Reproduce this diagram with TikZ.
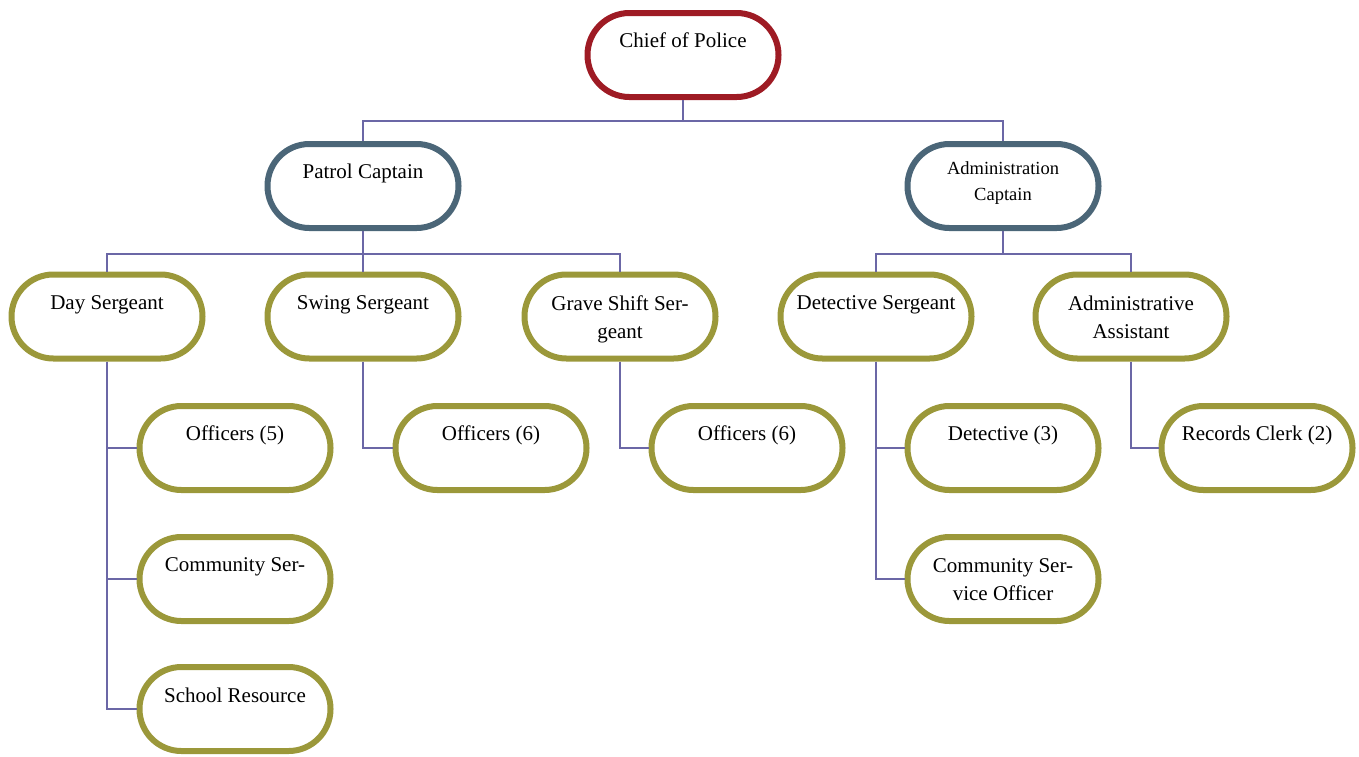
\documentclass[tikz,border=0pt]{standalone}
\usepackage{fontspec}
\setmainfont{Liberation Serif}
\definecolor{chiefred}{HTML}{9E1B24}
\definecolor{captslate}{HTML}{4B6678}
\definecolor{staffolive}{HTML}{9B983A}
\definecolor{linkpurple}{HTML}{6B67A6}
\begin{document}
\begin{tikzpicture}[x=1pt,y=1pt,
  unit/.style={draw, fill=white, line width=6pt, rounded corners=41.9pt,
    minimum width=191pt, minimum height=84pt, inner sep=0pt},
  topunit/.style={unit, draw=chiefred},
  captunit/.style={unit, draw=captslate},
  staffunit/.style={unit, draw=staffolive},
  lbl/.style={font=\fontsize{21}{28}\selectfont, align=center, anchor=base, inner sep=0pt},
  smalllbl/.style={lbl, font=\fontsize{18.5}{26.5}\selectfont},
  conn/.style={draw=linkpurple, line width=1.6pt}]
\useasboundingbox (0,0) rectangle (1359,-756);

% ---- boxes ----
\node[topunit]   (chief)  at (683,-55)    {};
\node[captunit]  (patrol) at (363,-186)   {};
\node[captunit]  (admcap) at (1003,-186)  {};
\node[staffunit] (day)    at (107,-316.5) {};
\node[staffunit] (swing)  at (363,-316.5) {};
\node[staffunit] (grave)  at (620,-316.5) {};
\node[staffunit] (detsgt) at (876,-316.5) {};
\node[staffunit] (admast) at (1131,-316.5){};
\node[staffunit] (offday)   at (235,-448) {};
\node[staffunit] (offswing) at (491,-448) {};
\node[staffunit] (offgrave) at (747,-448) {};
\node[staffunit] (dets)     at (1003,-448){};
\node[staffunit] (clerks)   at (1257,-448){};
\node[staffunit] (csoday)   at (235,-579) {};
\node[staffunit] (csodet)   at (1003,-579){};
\node[staffunit] (sro)      at (235,-709) {};

% ---- labels (base anchor = baseline of the last line) ----
\node[lbl] (tchief)  at (683,-47)    {Chief of Police};
\node[lbl] (tpatrol) at (363,-178)   {Patrol Captain};
\node[smalllbl] (tadmcap) at (1003,-200.5) {Administration\\Captain};
\node[lbl] (tday)    at (107,-309)   {Day Sergeant};
\node[lbl] (tswing)  at (363,-309)   {Swing Sergeant};
\node[lbl] (tgrave)  at (620,-338)   {Grave Shift Ser-\\geant};
\node[lbl] (tdetsgt) at (876,-309)   {Detective Sergeant};
\node[lbl] (tadmast) at (1131,-338)  {Administrative\\Assistant};
\node[lbl] (toffday)   at (235,-440.5)  {Officers (5)};
\node[lbl] (toffswing) at (491,-440.5)  {Officers (6)};
\node[lbl] (toffgrave) at (747,-440.5)  {Officers (6)};
\node[lbl] (tdets)     at (1003,-440.5) {Detective (3)};
\node[lbl] (tclerks)   at (1257,-440.5) {Records Clerk (2)};
\node[lbl] (tcsoday)   at (235,-571.7)  {Community Ser-};
\node[lbl] (tcsodet)   at (1003,-600)   {Community Ser-\\vice Officer};
\node[lbl] (tsro)      at (235,-702)    {School Resource};

% ---- bus levels ----
\coordinate (bus0) at (683,-121);
\coordinate (bus1) at (363,-254);

% ---- connectors ----
\draw[conn] (chief.south) -- (chief.south |- bus0) -| (patrol.north);
\draw[conn] (chief.south |- bus0) -| (admcap.north);
\draw[conn] (patrol.south) -- (patrol.south |- bus1) -| (day.north);
\draw[conn] (patrol.south |- bus1) -| (grave.north);
\draw[conn] (patrol.south |- bus1) -- (swing.north);
\draw[conn] (admcap.south) -- (admcap.south |- bus1) -| (detsgt.north);
\draw[conn] (admcap.south |- bus1) -| (admast.north);
\draw[conn] (day.south) |- (offday.west);
\draw[conn] (day.south) |- (csoday.west);
\draw[conn] (day.south) |- (sro.west);
\draw[conn] (swing.south) |- (offswing.west);
\draw[conn] (grave.south) |- (offgrave.west);
\draw[conn] (detsgt.south) |- (dets.west);
\draw[conn] (detsgt.south) |- (csodet.west);
\draw[conn] (admast.south) |- (clerks.west);
\end{tikzpicture}
\end{document}
